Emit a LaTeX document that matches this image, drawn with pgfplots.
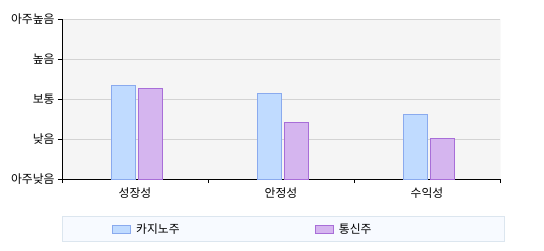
\documentclass[border=0pt]{standalone}
\usepackage{pgfplots}
\pgfplotsset{compat=1.18}
\usepackage{fontspec}
\setmainfont{Noto Sans CJK KR}
\definecolor{casf}{HTML}{C0DBFF}
\definecolor{casd}{HTML}{8AAAEE}
\definecolor{telf}{HTML}{D5B5EF}
\definecolor{teld}{HTML}{A86ED8}
\definecolor{bgc}{HTML}{F5F5F5}
\definecolor{gridc}{HTML}{D3D3D3}
\definecolor{legf}{HTML}{F7FAFF}
\definecolor{legd}{HTML}{DCE6EF}
\pgfplotsset{barleg/.style={legend image code/.code={\draw[##1] (0pt,-4pt) rectangle (18pt,4pt);}}}
\begin{document}
\begin{tikzpicture}
\path[use as bounding box] (0,0) rectangle (544pt,250pt);
\begin{axis}[
  at={(62pt,71pt)}, anchor=south west,
  scale only axis, width=438pt, height=160pt,
  ymin=0, ymax=4, xmin=-0.5, xmax=2.5,
  ybar, bar width=24pt,
  axis x line*=bottom, axis y line*=left,
  axis line style={black, line width=0.8pt},
  axis background/.style={fill=bgc},
  ytick={0,1,2,3,4},
  yticklabels={아주낮음,낮음,보통,높음,아주높음},
  xtick={0,1,2},
  xticklabels={성장성,안정성,수익성},
  minor xtick={-0.5,0.5,1.5,2.5},
  major x tick style={draw=none},
  minor x tick style={black, line width=0.8pt},
  y tick style={black, line width=0.8pt},
  tick align=outside,
  major tick length=4pt, minor tick length=4pt,
  ymajorgrids, major grid style={gridc, line width=0.8pt},
  tick label style={font=\fontsize{11.8}{13}\selectfont},
  xticklabel style={yshift=-1pt},
  legend columns=2,
  legend style={at={(0,-0.23125)}, anchor=north west, draw=legd, fill=legf,
    line width=0.8pt,
    inner xsep=50pt, inner ysep=5pt, column sep=0pt,
    /tikz/every odd column/.append style={column sep=5pt},
    font=\fontsize{11.8}{13}\selectfont,
    nodes={inner xsep=0pt}},
]
\addplot[fill=casf, draw=casd, line width=0.8pt, barleg, bar shift=-11.5pt]
  coordinates {(0,2.33) (1,2.14) (2,1.62)};
\addlegendentry{\makebox[179pt][l]{카지노주}}
\addplot[fill=telf, draw=teld, line width=0.8pt, barleg, bar shift=15pt]
  coordinates {(0,2.27) (1,1.42) (2,1.02)};
\addlegendentry{\makebox[115pt][l]{통신주}}
\draw[gridc, line width=0.8pt] (rel axis cs:1,0) -- (rel axis cs:1,1);
\end{axis}
\end{tikzpicture}
\end{document}
